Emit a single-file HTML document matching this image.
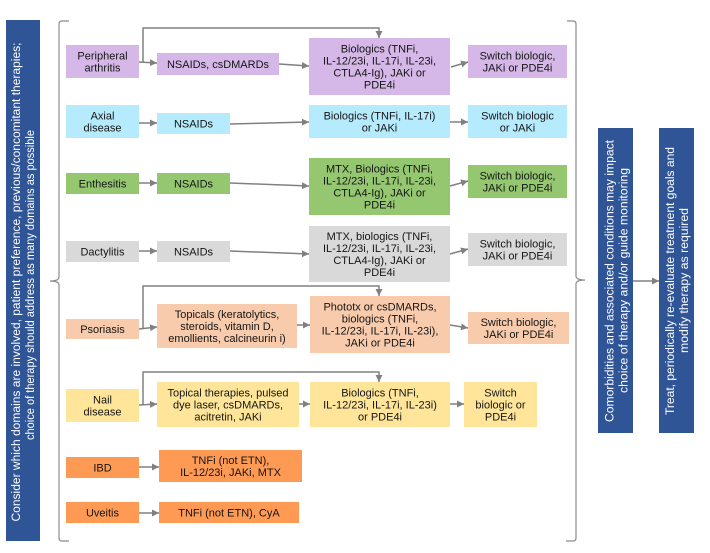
<!DOCTYPE html>
<html>
<head>
<meta charset="utf-8">
<style>
  html, body { margin: 0; padding: 0; background: #ffffff; }
  svg { display: block; }
  text { font-family: "Liberation Sans", "DejaVu Sans", sans-serif; }
  .t { font-size: 11px; fill: #151515; text-anchor: middle; }
  .v { font-size: 11.5px; fill: #ffffff; text-anchor: middle; }
  .ln { stroke: #808080; stroke-width: 1.5; fill: none; }
  .br { stroke: #8c8c8c; stroke-width: 1.2; fill: none; }
</style>
</head>
<body>
<svg width="710" height="553" viewBox="0 0 710 553" xmlns="http://www.w3.org/2000/svg">
  <defs>
    <marker id="ah" markerUnits="userSpaceOnUse" markerWidth="8" markerHeight="8" refX="7" refY="3.5" orient="auto">
      <path d="M0,0 L7,3.5 L0,7 z" fill="#808080"/>
    </marker>
  </defs>
  <rect x="0" y="0" width="710" height="553" fill="#ffffff"/>

  <!-- Left blue box -->
  <rect x="6" y="20" width="34" height="521" fill="#2f5597"/>
  <g transform="translate(23,282) rotate(-90)">
    <text class="v" x="0" y="-3" textLength="479" lengthAdjust="spacingAndGlyphs">Consider which domains are involved, patient preference, previous/concomitant therapies;</text>
    <text class="v" x="-3" y="11" textLength="310" lengthAdjust="spacingAndGlyphs">choice of therapy should address as many domains as possible</text>
  </g>

  <!-- Brackets -->
  <path class="br" d="M69,21 L62,21 Q59,21 59,24 L59,277 Q59,281 50,281 Q59,281 59,285 L59,538 Q59,541 62,541 L69,541"/>
  <path class="br" d="M567,21 L573,21 Q576,21 576,24 L576,276 Q576,280 585,280 Q576,280 576,284 L576,538 Q576,541 573,541 L566,541"/>

  <!-- Middle blue box -->
  <rect x="598" y="128" width="35" height="305" fill="#2f5597"/>
  <g transform="translate(615.5,281) rotate(-90)">
    <text class="v" x="0" y="-2" textLength="282" lengthAdjust="spacingAndGlyphs">Comorbidities and associated conditions may impact</text>
    <text class="v" x="0.5" y="12" textLength="225" lengthAdjust="spacingAndGlyphs">choice of therapy and/or guide monitoring</text>
  </g>

  <!-- Right blue box -->
  <rect x="659" y="128" width="35" height="305" fill="#2f5597"/>
  <g transform="translate(676.5,281) rotate(-90)">
    <text class="v" x="0" y="-2.5" textLength="268" lengthAdjust="spacingAndGlyphs">Treat, periodically re-evaluate treatment goals and</text>
    <text class="v" x="0.5" y="11.5" textLength="145" lengthAdjust="spacingAndGlyphs">modify therapy as required</text>
  </g>
  <line class="ln" x1="633" y1="281" x2="659" y2="281" marker-end="url(#ah)"/>

  <!-- Row 1: Peripheral arthritis -->
  <rect x="66" y="45" width="73" height="33" fill="#d5b8e8"/>
  <text class="t" x="102.5" y="59.5">Peripheral</text>
  <text class="t" x="102.5" y="71.5">arthritis</text>
  <rect x="157" y="53" width="122" height="22" fill="#d5b8e8"/>
  <text class="t" x="218" y="68">NSAIDs, csDMARDs</text>
  <rect x="309" y="38" width="141" height="57" fill="#d5b8e8"/>
  <text class="t" x="379.5" y="52.5">Biologics (TNFi,</text>
  <text class="t" x="379.5" y="64.5">IL-12/23i, IL-17i, IL-23i,</text>
  <text class="t" x="379.5" y="76.5">CTLA4-Ig), JAKi or</text>
  <text class="t" x="379.5" y="88.5">PDE4i</text>
  <rect x="468" y="45" width="99" height="33" fill="#d5b8e8"/>
  <text class="t" x="517.5" y="59.5">Switch biologic,</text>
  <text class="t" x="517.5" y="71.5">JAKi or PDE4i</text>
  <line class="ln" x1="139" y1="62" x2="157" y2="63" marker-end="url(#ah)"/>
  <polyline class="ln" points="143,62 143,28 379,28 379,38" marker-end="url(#ah)"/>
  <line class="ln" x1="279" y1="64" x2="309" y2="66" marker-end="url(#ah)"/>
  <line class="ln" x1="451" y1="67" x2="468" y2="62" marker-end="url(#ah)"/>

  <!-- Row 2: Axial disease -->
  <rect x="66" y="105" width="73" height="33" fill="#b5ebfc"/>
  <text class="t" x="102.5" y="119.5">Axial</text>
  <text class="t" x="102.5" y="131.5">disease</text>
  <rect x="157" y="113" width="73" height="21" fill="#b5ebfc"/>
  <text class="t" x="193.5" y="127.5">NSAIDs</text>
  <rect x="309" y="105" width="141" height="33" fill="#b5ebfc"/>
  <text class="t" x="379.5" y="119.5">Biologics (TNFi, IL-17i)</text>
  <text class="t" x="379.5" y="131.5">or JAKi</text>
  <rect x="468" y="105" width="99" height="33" fill="#b5ebfc"/>
  <text class="t" x="517.5" y="119.5">Switch biologic</text>
  <text class="t" x="517.5" y="131.5">or JAKi</text>
  <line class="ln" x1="139" y1="123" x2="157" y2="123" marker-end="url(#ah)"/>
  <line class="ln" x1="230" y1="124" x2="309" y2="122" marker-end="url(#ah)"/>
  <line class="ln" x1="450" y1="122" x2="468" y2="122" marker-end="url(#ah)"/>

  <!-- Row 3: Enthesitis -->
  <rect x="66" y="173" width="73" height="21" fill="#95c771"/>
  <text class="t" x="102.5" y="187.5">Enthesitis</text>
  <rect x="157" y="173" width="73" height="21" fill="#95c771"/>
  <text class="t" x="193.5" y="187.5">NSAIDs</text>
  <rect x="309" y="158" width="141" height="57" fill="#95c771"/>
  <text class="t" x="379.5" y="172.5">MTX, Biologics (TNFi,</text>
  <text class="t" x="379.5" y="184.5">IL-12/23i, IL-17i, IL-23i,</text>
  <text class="t" x="379.5" y="196.5">CTLA4-Ig), JAKi or</text>
  <text class="t" x="379.5" y="208.5">PDE4i</text>
  <rect x="468" y="165" width="99" height="33" fill="#95c771"/>
  <text class="t" x="517.5" y="179.5">Switch biologic,</text>
  <text class="t" x="517.5" y="191.5">JAKi or PDE4i</text>
  <line class="ln" x1="139" y1="183" x2="157" y2="183" marker-end="url(#ah)"/>
  <line class="ln" x1="230" y1="183" x2="309" y2="186" marker-end="url(#ah)"/>
  <line class="ln" x1="450" y1="186" x2="468" y2="181" marker-end="url(#ah)"/>

  <!-- Row 4: Dactylitis -->
  <rect x="66" y="241" width="73" height="21" fill="#d9d9d9"/>
  <text class="t" x="102.5" y="255.5">Dactylitis</text>
  <rect x="157" y="241" width="73" height="21" fill="#d9d9d9"/>
  <text class="t" x="193.5" y="255.5">NSAIDs</text>
  <rect x="309" y="226" width="141" height="56" fill="#d9d9d9"/>
  <text class="t" x="379.5" y="240">MTX, biologics (TNFi,</text>
  <text class="t" x="379.5" y="252">IL-12/23i, IL-17i, IL-23i,</text>
  <text class="t" x="379.5" y="264">CTLA4-Ig), JAKi or</text>
  <text class="t" x="379.5" y="276">PDE4i</text>
  <rect x="468" y="233" width="99" height="33" fill="#d9d9d9"/>
  <text class="t" x="517.5" y="247.5">Switch biologic,</text>
  <text class="t" x="517.5" y="259.5">JAKi or PDE4i</text>
  <line class="ln" x1="139" y1="251" x2="157" y2="251" marker-end="url(#ah)"/>
  <line class="ln" x1="230" y1="251" x2="309" y2="254" marker-end="url(#ah)"/>
  <line class="ln" x1="450" y1="254" x2="468" y2="249" marker-end="url(#ah)"/>

  <!-- Row 5: Psoriasis -->
  <rect x="66" y="319" width="73" height="20" fill="#f8cbad"/>
  <text class="t" x="102.5" y="333">Psoriasis</text>
  <rect x="157" y="304" width="140" height="44" fill="#f8cbad"/>
  <text class="t" x="227" y="318">Topicals (keratolytics,</text>
  <text class="t" x="227" y="330">steroids, vitamin D,</text>
  <text class="t" x="227" y="342">emollients, calcineurin i)</text>
  <rect x="310" y="296" width="140" height="57" fill="#f8cbad"/>
  <text class="t" x="380" y="310.5">Phototx or csDMARDs,</text>
  <text class="t" x="380" y="322.5">biologics (TNFi,</text>
  <text class="t" x="380" y="334.5">IL-12/23i, IL-17i, IL-23i),</text>
  <text class="t" x="380" y="346.5">JAKi or PDE4i</text>
  <rect x="468" y="312" width="101" height="32" fill="#f8cbad"/>
  <text class="t" x="518.5" y="326">Switch biologic,</text>
  <text class="t" x="518.5" y="338">JAKi or PDE4i</text>
  <line class="ln" x1="139" y1="329" x2="157" y2="327" marker-end="url(#ah)"/>
  <polyline class="ln" points="143,329 143,286 379,286 379,296" marker-end="url(#ah)"/>
  <line class="ln" x1="297" y1="325" x2="310" y2="325" marker-end="url(#ah)"/>
  <line class="ln" x1="450" y1="325" x2="468" y2="328" marker-end="url(#ah)"/>

  <!-- Row 6: Nail disease -->
  <rect x="66" y="389" width="73" height="33" fill="#fee599"/>
  <text class="t" x="102.5" y="403.5">Nail</text>
  <text class="t" x="102.5" y="415.5">disease</text>
  <rect x="157" y="382" width="142" height="45" fill="#fee599"/>
  <text class="t" x="228" y="396.5">Topical therapies, pulsed</text>
  <text class="t" x="228" y="408.5">dye laser, csDMARDs,</text>
  <text class="t" x="228" y="420.5">acitretin, JAKi</text>
  <rect x="310" y="382" width="140" height="45" fill="#fee599"/>
  <text class="t" x="380" y="396.5">Biologics (TNFi,</text>
  <text class="t" x="380" y="408.5">IL-12/23i, IL-17i, IL-23i)</text>
  <text class="t" x="380" y="420.5">or PDE4i</text>
  <rect x="464" y="382" width="73" height="45" fill="#fee599"/>
  <text class="t" x="500.5" y="396.5">Switch</text>
  <text class="t" x="500.5" y="408.5">biologic or</text>
  <text class="t" x="500.5" y="420.5">PDE4i</text>
  <line class="ln" x1="139" y1="405" x2="157" y2="404" marker-end="url(#ah)"/>
  <polyline class="ln" points="143,405 143,372 379,372 379,382" marker-end="url(#ah)"/>
  <line class="ln" x1="299" y1="404" x2="310" y2="404" marker-end="url(#ah)"/>
  <line class="ln" x1="450" y1="404" x2="464" y2="404" marker-end="url(#ah)"/>

  <!-- Row 7: IBD -->
  <rect x="66" y="457" width="73" height="21" fill="#fe9a53"/>
  <text class="t" x="102.5" y="471.5">IBD</text>
  <rect x="159" y="450" width="143" height="32" fill="#fe9a53"/>
  <text class="t" x="230.5" y="464">TNFi (not ETN),</text>
  <text class="t" x="230.5" y="476">IL-12/23i, JAKi, MTX</text>
  <line class="ln" x1="139" y1="467" x2="159" y2="467" marker-end="url(#ah)"/>

  <!-- Row 8: Uveitis -->
  <rect x="66" y="502" width="73" height="21" fill="#fe9a53"/>
  <text class="t" x="102.5" y="516.5">Uveitis</text>
  <rect x="159" y="502" width="140" height="21" fill="#fe9a53"/>
  <text class="t" x="229" y="516.5">TNFi (not ETN), CyA</text>
  <line class="ln" x1="139" y1="513" x2="159" y2="513" marker-end="url(#ah)"/>
</svg>
</body>
</html>
